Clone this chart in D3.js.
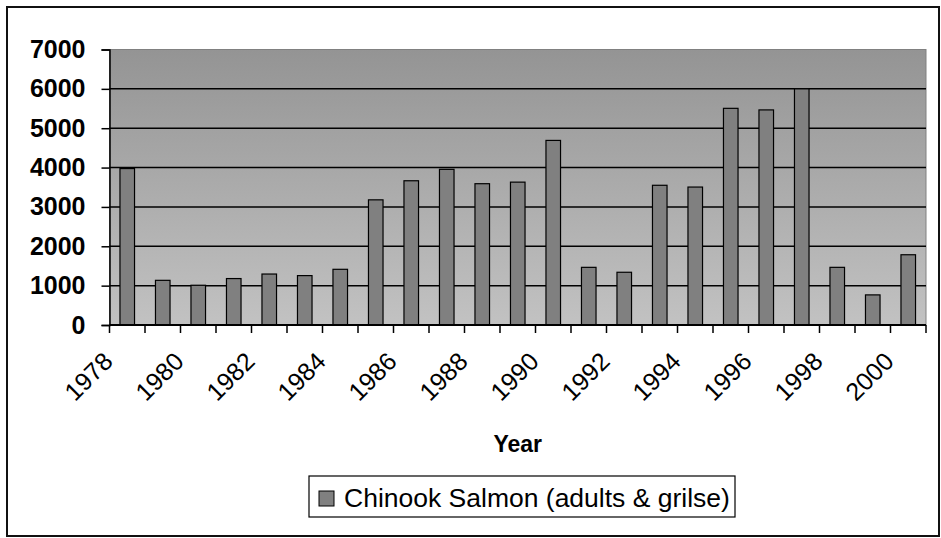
<!DOCTYPE html>
<html>
<head>
<meta charset="utf-8">
<script src="https://cdn.jsdelivr.net/npm/d3@7"></script>
<style>
  body { margin: 0; background: #fff; }
  svg { display: block; font-family: "Liberation Sans", Arial, sans-serif; }
</style>
</head>
<body>
<svg width="941" height="538"></svg>
<script>
// data
let years = [1978, 1979, 1980, 1981, 1982, 1983, 1984, 1985, 1986, 1987, 1988, 1989,
             1990, 1991, 1992, 1993, 1994, 1995, 1996, 1997, 1998, 1999, 2000];
let salmon = [3975, 1135, 1010, 1180, 1295, 1255, 1415, 3180, 3665, 3955, 3590, 3630,
              4690, 1465, 1340, 3550, 3505, 5505, 5465, 6000, 1465, 765, 1785];
let yTicks = [0, 1000, 2000, 3000, 4000, 5000, 6000, 7000];
let xLabels = [1978, 1980, 1982, 1984, 1986, 1988, 1990, 1992, 1994, 1996, 1998, 2000];
let seriesName = 'Chinook Salmon (adults & grilse)';

let svg = d3.select('svg');
let width = +svg.attr('width');
let height = +svg.attr('height');

let data = years.map((y, i) => ({year: y, value: salmon[i]}));

let plot = {left: 109.5, right: 926, top: 49.5, bottom: 325};

// outer frame
svg.append('rect')
    .attr('x', 7).attr('y', 7)
    .attr('width', 932).attr('height', 529)
    .attr('fill', 'none')
    .attr('stroke', '#111')
    .attr('stroke-width', 2);

// scales
let xScale = d3.scaleBand()
    .domain(years)
    .range([plot.left, plot.right])
    .paddingInner(0.59)
    .paddingOuter(0.295);

let yScale = d3.scaleLinear()
    .domain([0, 7000])
    .range([plot.bottom, plot.top]);

// gradient background of plot area
let grad = svg.append('defs').append('linearGradient')
    .attr('id', 'bg')
    .attr('x1', 0).attr('y1', 0).attr('x2', 0).attr('y2', 1);
grad.append('stop').attr('offset', '0%').attr('stop-color', '#949494');
grad.append('stop').attr('offset', '100%').attr('stop-color', '#c2c2c2');

svg.append('rect')
    .attr('x', plot.left).attr('y', plot.top)
    .attr('width', plot.right - plot.left)
    .attr('height', plot.bottom - plot.top)
    .attr('fill', 'url(#bg)')
    .attr('stroke', '#808080')
    .attr('stroke-width', 1);

// gridlines
svg.append('g')
    .selectAll('line')
    .data(yTicks.filter(d => d > 0 && d < 7000))
    .enter().append('line')
    .attr('x1', plot.left).attr('x2', plot.right)
    .attr('y1', d => yScale(d)).attr('y2', d => yScale(d))
    .attr('stroke', '#000')
    .attr('stroke-width', 1.5);

// bars
svg.append('g')
    .selectAll('rect')
    .data(data)
    .enter().append('rect')
    .attr('x', d => xScale(d.year))
    .attr('y', d => yScale(d.value))
    .attr('width', xScale.bandwidth())
    .attr('height', d => yScale(0) - yScale(d.value))
    .attr('fill', '#808080')
    .attr('stroke', '#000')
    .attr('stroke-width', 1.2);

// y axis
let yAxis = svg.append('g')
    .attr('transform', `translate(${plot.left},0)`)
    .call(d3.axisLeft(yScale).tickValues(yTicks).tickSize(8).tickPadding(16).tickFormat(d3.format('d')));
yAxis.select('.domain').attr('stroke', '#000').attr('stroke-width', 1.5);
yAxis.selectAll('.tick line').attr('stroke', '#000').attr('stroke-width', 1.5);
yAxis.selectAll('.tick text')
    .attr('font-size', 25)
    .attr('font-weight', 'bold')
    .attr('font-family', '"Liberation Sans", Arial, sans-serif')
    .attr('fill', '#000');

// x axis: ticks sit between categories
let step = xScale.step();
let bounds = years.map((y, i) => plot.left + i * step).concat([plot.right]);
let xAxis = svg.append('g');
xAxis.append('line')
    .attr('x1', plot.left).attr('x2', plot.right)
    .attr('y1', plot.bottom).attr('y2', plot.bottom)
    .attr('stroke', '#000').attr('stroke-width', 2);
xAxis.selectAll('.xt')
    .data(bounds)
    .enter().append('line')
    .attr('class', 'xt')
    .attr('x1', d => d).attr('x2', d => d)
    .attr('y1', plot.bottom).attr('y2', plot.bottom + 8)
    .attr('stroke', '#000').attr('stroke-width', 1.5);

let center = d => xScale(d) + xScale.bandwidth() / 2;
xAxis.selectAll('.xl')
    .data(xLabels)
    .enter().append('text')
    .attr('class', 'xl')
    .attr('transform', d => `translate(${center(d) - 13},${plot.bottom + 38}) rotate(-45)`)
    .attr('text-anchor', 'end')
    .attr('font-size', 25)
    .text(d => d);

// axis title
svg.append('text')
    .attr('x', (plot.left + plot.right) / 2)
    .attr('y', 452)
    .attr('text-anchor', 'middle')
    .attr('font-size', 23)
    .attr('font-weight', 'bold')
    .text('Year');

// legend
let legend = svg.append('g');
legend.append('rect')
    .attr('x', 309).attr('y', 476)
    .attr('width', 426).attr('height', 41)
    .attr('fill', '#fff')
    .attr('stroke', '#000')
    .attr('stroke-width', 1.2);
legend.append('rect')
    .attr('x', 319).attr('y', 491)
    .attr('width', 15).attr('height', 15)
    .attr('fill', '#808080')
    .attr('stroke', '#000')
    .attr('stroke-width', 1);
legend.append('text')
    .attr('x', 344).attr('y', 507)
    .attr('font-size', 26.5)
    .text(seriesName);
</script>
</body>
</html>
